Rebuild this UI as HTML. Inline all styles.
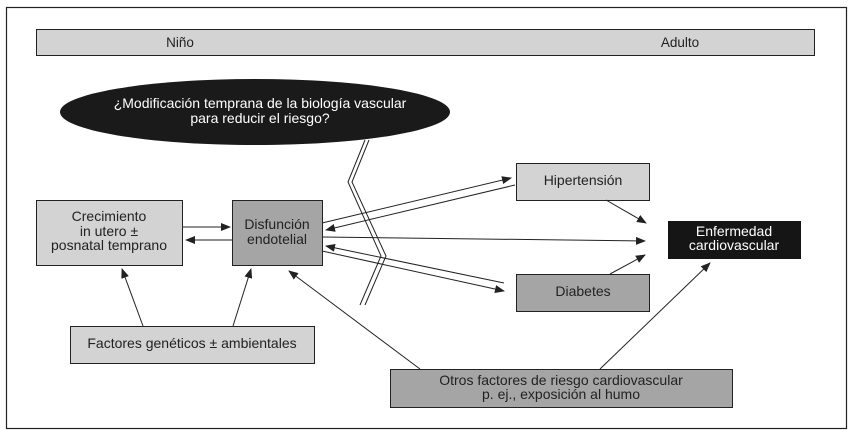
<!DOCTYPE html>
<html><head><meta charset="utf-8"><style>
html,body{margin:0;padding:0;background:#fff;}
svg{display:block;font-family:"Liberation Sans",sans-serif;}
</style></head><body>
<svg width="852" height="435" viewBox="0 0 852 435">
<defs><marker id="a" markerWidth="10" markerHeight="8" refX="9" refY="4" orient="auto" markerUnits="userSpaceOnUse"><path d="M0,0 L10,4 L0,8 z" fill="#222"/></marker></defs>
<rect x="6.5" y="7.5" width="840" height="421" fill="#fff" stroke="#222" stroke-width="1.2"/>
<rect x="36.5" y="29.5" width="778" height="26" fill="#d3d3d3" stroke="#222"/>
<text x="180" y="47" font-size="13.5" text-anchor="middle" fill="#222">Niño</text>
<text x="680" y="47" font-size="13.5" text-anchor="middle" fill="#222">Adulto</text>
<ellipse cx="255" cy="112" rx="195" ry="33" fill="#1a1a1a"/>
<text x="260" y="108" font-size="14" text-anchor="middle" fill="#fff">¿Modificación temprana de la biología vascular</text>
<text x="260" y="123" font-size="14" text-anchor="middle" fill="#fff">para reducir el riesgo?</text>
<g fill="none" stroke="#222" stroke-width="1">
<polyline points="365,140 348,182 381,256 360,305"/>
<polyline points="369,140 352,182 386,256 365,305"/>
</g>
<rect x="36.5" y="200.5" width="146" height="65" fill="#d3d3d3" stroke="#222"/>
<text x="109" y="221" font-size="14" text-anchor="middle" fill="#222">Crecimiento</text>
<text x="109" y="236" font-size="14" text-anchor="middle" fill="#222">in utero ±</text>
<text x="109" y="250" font-size="14" text-anchor="middle" fill="#222">posnatal temprano</text>
<rect x="232.5" y="200.5" width="90" height="65" fill="#a5a5a5" stroke="#222"/>
<text x="277" y="229" font-size="14" text-anchor="middle" fill="#222">Disfunción</text>
<text x="277" y="244" font-size="14" text-anchor="middle" fill="#222">endotelial</text>
<rect x="516.5" y="163.5" width="133" height="37" fill="#d3d3d3" stroke="#222"/>
<text x="583" y="185" font-size="14" text-anchor="middle" fill="#222">Hipertensión</text>
<rect x="516.5" y="274.5" width="133" height="37" fill="#a5a5a5" stroke="#222"/>
<text x="583" y="296" font-size="14" text-anchor="middle" fill="#222">Diabetes</text>
<rect x="668" y="221" width="133" height="38" fill="#151515"/>
<text x="734" y="236" font-size="14" text-anchor="middle" fill="#fff">Enfermedad</text>
<text x="734" y="250" font-size="14" text-anchor="middle" fill="#fff">cardiovascular</text>
<rect x="70.5" y="326.5" width="244" height="37" fill="#d3d3d3" stroke="#222"/>
<text x="192" y="348" font-size="14" text-anchor="middle" fill="#222">Factores genéticos ± ambientales</text>
<rect x="390.5" y="369.5" width="342" height="38" fill="#a5a5a5" stroke="#222"/>
<text x="561" y="385" font-size="14" text-anchor="middle" fill="#222">Otros factores de riesgo cardiovascular</text>
<text x="561" y="399" font-size="14" text-anchor="middle" fill="#222">p. ej., exposición al humo</text>
<g stroke="#222" stroke-width="1" marker-end="url(#a)">
<line x1="183" y1="227" x2="230" y2="227"/>
<line x1="232" y1="240" x2="186" y2="240"/>
<line x1="322" y1="223" x2="511" y2="178"/>
<line x1="515" y1="185" x2="326" y2="230"/>
<line x1="322" y1="237" x2="645" y2="241"/>
<line x1="504" y1="283" x2="326" y2="246"/>
<line x1="322" y1="251" x2="504" y2="291"/>
<line x1="606" y1="200" x2="646" y2="223"/>
<line x1="610" y1="274" x2="645" y2="255"/>
<line x1="143" y1="326" x2="122" y2="269"/>
<line x1="233" y1="326" x2="251" y2="269"/>
<line x1="420" y1="369" x2="289" y2="271"/>
<line x1="600" y1="369" x2="710" y2="263"/>
</g>
</svg>
</body></html>
